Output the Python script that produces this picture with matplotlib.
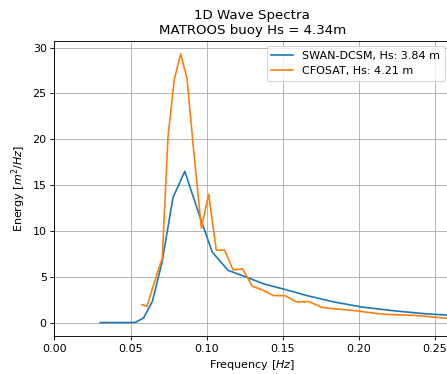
import matplotlib
matplotlib.use("Agg")
import matplotlib.pyplot as plt

# SWAN-DCSM spectrum
swan_freq = [0.0300, 0.0330, 0.0363, 0.0399, 0.0439, 0.0483, 0.0531, 0.0585,
             0.0643, 0.0707, 0.0778, 0.0856, 0.0942, 0.1036, 0.1140, 0.1254,
             0.1379, 0.1517, 0.1669, 0.1836, 0.2019, 0.2221, 0.2443, 0.2688,
             0.2957]
swan_energy = [0.0, 0.0, 0.0, 0.0, 0.0, 0.0, 0.02, 0.5,
               2.3, 6.6, 13.6, 16.5, 12.2, 7.7, 5.7, 5.0,
               4.2, 3.6, 2.9, 2.25, 1.7, 1.3, 0.95, 0.72,
               0.5]

# CFOSAT spectrum
cfosat_freq = [0.0575, 0.0608, 0.0641, 0.0674, 0.0708, 0.0746, 0.0787, 0.0829,
               0.0871, 0.0916, 0.0965, 0.1013, 0.1063, 0.1118, 0.1173, 0.1236,
               0.1300, 0.1361, 0.1438, 0.1514, 0.1590, 0.1674, 0.1755, 0.1840,
               0.1930, 0.2020, 0.2110, 0.2200, 0.2300, 0.2400, 0.2500, 0.2600,
               0.2700]
cfosat_energy = [1.96, 1.77, 3.6, 5.3, 7.0, 20.3, 26.5, 29.3,
                 26.6, 18.5, 10.3, 14.0, 7.9, 7.9, 5.75, 5.85,
                 3.95, 3.6, 2.94, 2.94, 2.25, 2.28, 1.67, 1.5,
                 1.38, 1.2, 1.0, 0.87, 0.82, 0.75, 0.58, 0.44,
                 0.4]

swan_label = "SWAN-DCSM, Hs: 3.84 m"
cfosat_label = "CFOSAT, Hs: 4.21 m"
title = "1D Wave Spectra\nMATROOS buoy Hs = 4.34m"

DPI = 80
fig = plt.figure(figsize=(447 / DPI, 374 / DPI), dpi=DPI)
ax = fig.add_axes([0.1219, 0.1016, 1.0072 - 0.1219, 0.8917 - 0.1016])
ax.plot(swan_freq, swan_energy, color="#1f77b4", label=swan_label)
ax.plot(cfosat_freq, cfosat_energy, color="#ff7f0e", label=cfosat_label)
ax.set_xlim(0, 0.26)
ax.set_ylim(-1.465, 30.77)
ax.set_xticks([0.0, 0.05, 0.10, 0.15, 0.20, 0.25])
ax.set_yticks([0, 5, 10, 15, 20, 25, 30])
ax.grid(True)
ax.set_xlabel("Frequency [$Hz$]")
ax.set_ylabel("Energy [$m^2/Hz$]")
ax.set_title(title)
ax.legend(loc="upper right")
fig.savefig("out.png", dpi=DPI)
